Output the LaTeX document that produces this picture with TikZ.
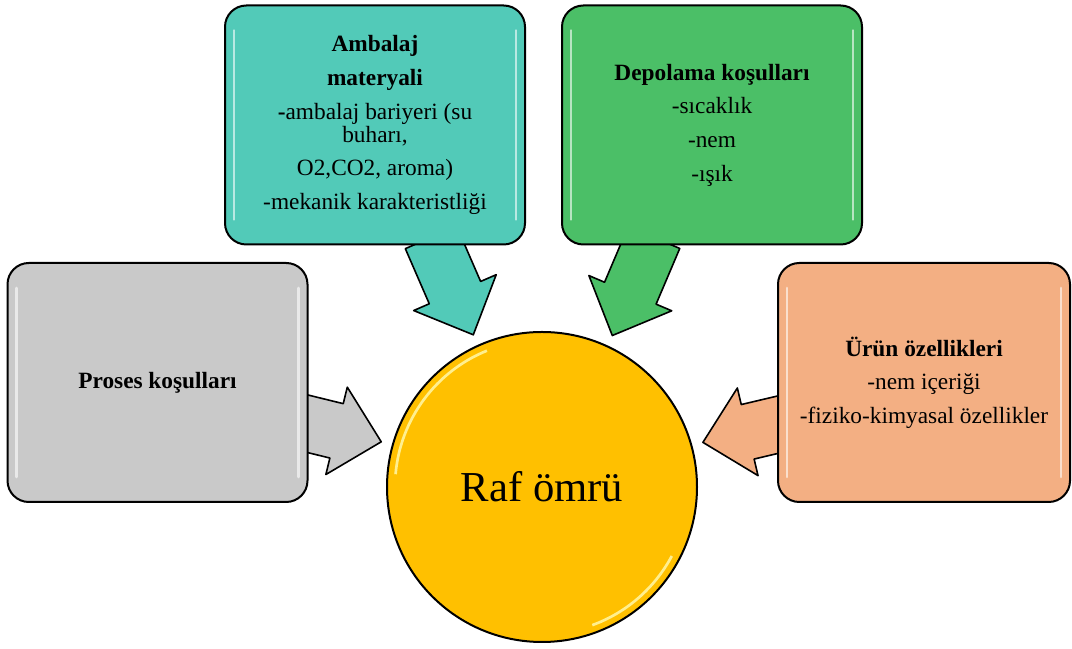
\documentclass[tikz,border=0pt]{standalone}
\usepackage{fontspec}
\setmainfont{Liberation Serif}
\usetikzlibrary{calc, backgrounds}

\definecolor{grayfill}{HTML}{C9C9C9}
\definecolor{tealfill}{HTML}{52CAB8}
\definecolor{greenfill}{HTML}{4BBF67}
\definecolor{orangefill}{HTML}{F3AF83}
\definecolor{goldfill}{HTML}{FFC000}

% block arrow from #1 to the tip #2
\newcommand{\blockarrow}[3]{%
  \coordinate (bah) at ($(#2)!34.5pt!(#1)$);
  \draw[arrowbody, fill=#3]
    ($(#1)!21pt!90:(#2)$) -- ($(bah)!21pt!90:(#2)$) -- ($(bah)!33.75pt!90:(#2)$) -- (#2)
    -- ($(bah)!33.75pt!-90:(#2)$) -- ($(bah)!21pt!-90:(#2)$) -- ($(#1)!21pt!-90:(#2)$) -- cycle;
}

\begin{document}
\begin{tikzpicture}[x=0.75pt, y=0.75pt,
    factor/.style={draw=black, line width=1.5pt, rounded corners=16pt, align=center,
      minimum width=225pt, minimum height=179.25pt, inner sep=2pt,
      font=\fontsize{17.5}{17.25}\selectfont},
    arrowbody/.style={draw=black, line width=1.2pt, line join=round},
    gloss/.style={white, line width=2pt, line cap=round, opacity=.6}]
  \useasboundingbox (0,0) rectangle (1072,649);

  \node[factor, fill=grayfill] (proses) at (157.5,266.5) {\textbf{Proses koşulları}};
  \node[factor, fill=tealfill] (ambalaj) at (375,524)
    {\textbf{Ambalaj}\\[8pt]\textbf{materyali}\\[8pt]\textbf{-}ambalaj bariyeri (su\\buharı,\\[8pt]O2,CO2, aroma)\\[8pt]-mekanik karakteristliği};
  \node[factor, fill=greenfill] (depolama) at (712,524)
    {\textbf{Depolama koşulları}\\[8pt]-sıcaklık\\[8pt]-nem\\[8pt]-ışık};
  \node[factor, fill=orangefill, minimum width=219pt] (urun) at (924,266.5)
    {\textbf{Ürün özellikleri}\\[8pt]-nem içeriği\\[8pt]-fiziko-kimyasal özellikler};

  \node[circle, draw=black, line width=1.5pt, fill=goldfill, minimum size=232.5pt, inner sep=0pt,
    font=\fontsize{32}{36}\selectfont] (raf) at (542,162) {Raf ömrü};

  \foreach \b in {proses, ambalaj, depolama, urun} {
    \draw[gloss] ($(\b.north west)+(10,-26)$) -- ($(\b.south west)+(10,26)$);
    \draw[gloss] ($(\b.north east)+(-10,-26)$) -- ($(\b.south east)+(-10,26)$);
  }
  \draw[yellow!30, line width=2pt, opacity=.8] ($(raf.center)+(112:147)$) arc (112:175:147);
  \draw[yellow!30, line width=2pt, opacity=.8] ($(raf.center)+(-28:147)$) arc (-28:-70:147);

  \coordinate (ambalajS) at ($(ambalaj.south)+(56,8)$);
  \coordinate (depolamaS) at ($(depolama.south)+(-58,8)$);
  \coordinate (prosesS) at ($(proses.east)+(-8,-39.5)$);
  \coordinate (urunS) at ($(urun.west)+(8,-40.5)$);
  \coordinate (ambalajT) at ($(raf.center)+(114.3:167)$);
  \coordinate (depolamaT) at ($(raf.center)+(65.1:167)$);
  \coordinate (prosesT) at ($(raf.center)+(164.3:167)$);
  \coordinate (urunT) at ($(raf.center)+(15.5:167)$);

  \begin{scope}[on background layer]
    \blockarrow{ambalajS}{ambalajT}{tealfill}
    \blockarrow{depolamaS}{depolamaT}{greenfill}
    \blockarrow{prosesS}{prosesT}{grayfill}
    \blockarrow{urunS}{urunT}{orangefill}
  \end{scope}
\end{tikzpicture}
\end{document}
